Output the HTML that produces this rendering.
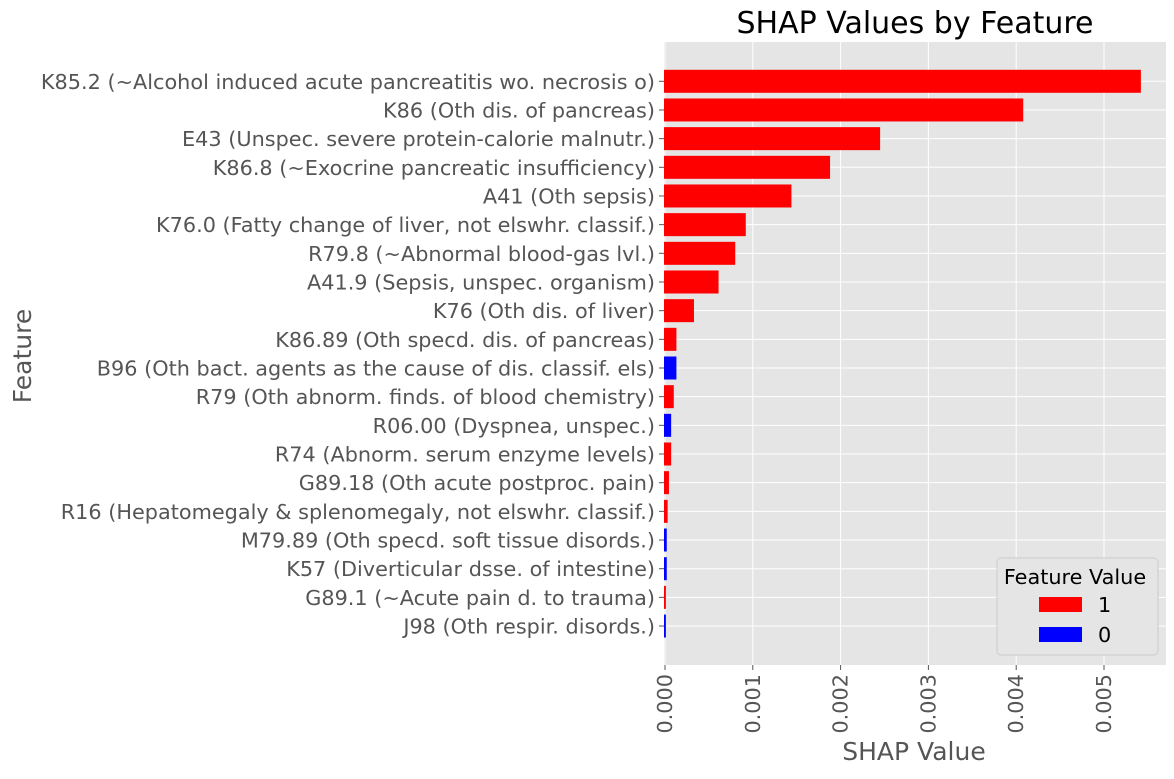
<!DOCTYPE html>
<html><head><meta charset="utf-8"><style>
body{margin:0;background:#fff;font-family:"DejaVu Sans",sans-serif;}
</style></head><body>
<svg id="c" width="1174" height="775" xmlns="http://www.w3.org/2000/svg" font-family="DejaVu Sans, sans-serif"></svg>
<script>
const categories=["K85.2 (~Alcohol induced acute pancreatitis wo. necrosis o)","K86 (Oth dis. of pancreas)","E43 (Unspec. severe protein-calorie malnutr.)","K86.8 (~Exocrine pancreatic insufficiency)","A41 (Oth sepsis)","K76.0 (Fatty change of liver, not elswhr. classif.)","R79.8 (~Abnormal blood-gas lvl.)","A41.9 (Sepsis, unspec. organism)","K76 (Oth dis. of liver)","K86.89 (Oth specd. dis. of pancreas)","B96 (Oth bact. agents as the cause of dis. classif. els)","R79 (Oth abnorm. finds. of blood chemistry)","R06.00 (Dyspnea, unspec.)","R74 (Abnorm. serum enzyme levels)","G89.18 (Oth acute postproc. pain)","R16 (Hepatomegaly & splenomegaly, not elswhr. classif.)","M79.89 (Oth specd. soft tissue disords.)","K57 (Diverticular dsse. of intestine)","G89.1 (~Acute pain d. to trauma)","J98 (Oth respir. disords.)"];
const shapValues=[0.00542,0.00408,0.00245,0.00188,0.00144,0.00092,0.00080,0.00061,0.00033,0.00013,0.00013,0.00010,0.00007,0.00007,0.000045,0.00003,0.00002,0.00002,0.00001,0.00001];
const featureValues=[1,1,1,1,1,1,1,1,1,1,0,1,0,1,1,1,0,0,1,0];
const xTicks=[0,0.001,0.002,0.003,0.004,0.005];
const xTickLabels=["0.000","0.001","0.002","0.003","0.004","0.005"];
const NS="http://www.w3.org/2000/svg";
const svg=document.getElementById('c');
const L=664,R=1166,T=42,B=665;
const x0=665,pxPer=87800;
const xs=v=>x0+v*pxPer;
const step=28.67,top0=81.3;
const ys=i=>top0+i*step;
function mk(t,a,p){const e=document.createElementNS(NS,t);for(const k in a)e.setAttribute(k,a[k]);(p||svg).appendChild(e);return e;}
let bg=mk('rect',{x:L,y:T,width:R-L,height:B-T,fill:'#e5e5e5'});


xTicks.forEach((t,i)=>{
 let g=mk('line',{x1:xs(t),x2:xs(t),y1:T,y2:B,stroke:'#fff','stroke-width':1});
 
 
 mk('line',{x1:xs(t),x2:xs(t),y1:B,y2:B+5,stroke:'#555','stroke-width':1});
 let tx=mk('text',{x:0,y:0,'font-size':20.8,fill:'#555','text-anchor':'end',transform:`translate(${xs(t)+7},${B+9}) rotate(-90)`});
 tx.textContent=xTickLabels[i];
 
 
});
categories.forEach((c,i)=>{
 let g=mk('line',{x1:L,x2:R,y1:ys(i),y2:ys(i),stroke:'#fff','stroke-width':1});
 
 
});
categories.forEach((c,i)=>{
 let y=ys(i);
 let b=mk('rect',{x:L,y:y-11.5,width:Math.max(xs(shapValues[i])-L,1),height:23,fill:featureValues[i]?'#ff0000':'#0000ff'});
 
 
 mk('line',{x1:L-5,x2:L,y1:y,y2:y,stroke:'#555','stroke-width':1});
 let t=mk('text',{x:L-9,y:y+7.5,'font-size':20.8,fill:'#555','text-anchor':'end'});
 t.textContent=c;
 
 
});
let ti=mk('text',{x:915,y:33,'font-size':30,fill:'#000','text-anchor':'middle'});ti.textContent='SHAP Values by Feature';


let xt=mk('text',{x:914,y:760,'font-size':25,fill:'#555','text-anchor':'middle'});xt.textContent='SHAP Value';


let yt=mk('text',{x:0,y:0,'font-size':25,fill:'#555','text-anchor':'middle',transform:'translate(31,356) rotate(-90)'});yt.textContent='Feature';


let lg=mk('g',{});


mk('rect',{x:997,y:558,width:161,height:97,rx:4,fill:'#e5e5e5',stroke:'#ccc'},lg);
let lt=mk('text',{x:1075,y:584,'font-size':20.8,fill:'#000','text-anchor':'middle'},lg);lt.textContent='Feature Value';
[['1','#ff0000',605],['0','#0000ff',635]].forEach(([lab,col,y])=>{
 let e=mk('g',{},lg);
 
 
 mk('rect',{x:1039,y:y-8,width:43,height:15,fill:col},e);
 let t=mk('text',{x:1098,y:y+7,'font-size':20.8,fill:'#000'},e);t.textContent=lab;
});
</script>
</body></html>
